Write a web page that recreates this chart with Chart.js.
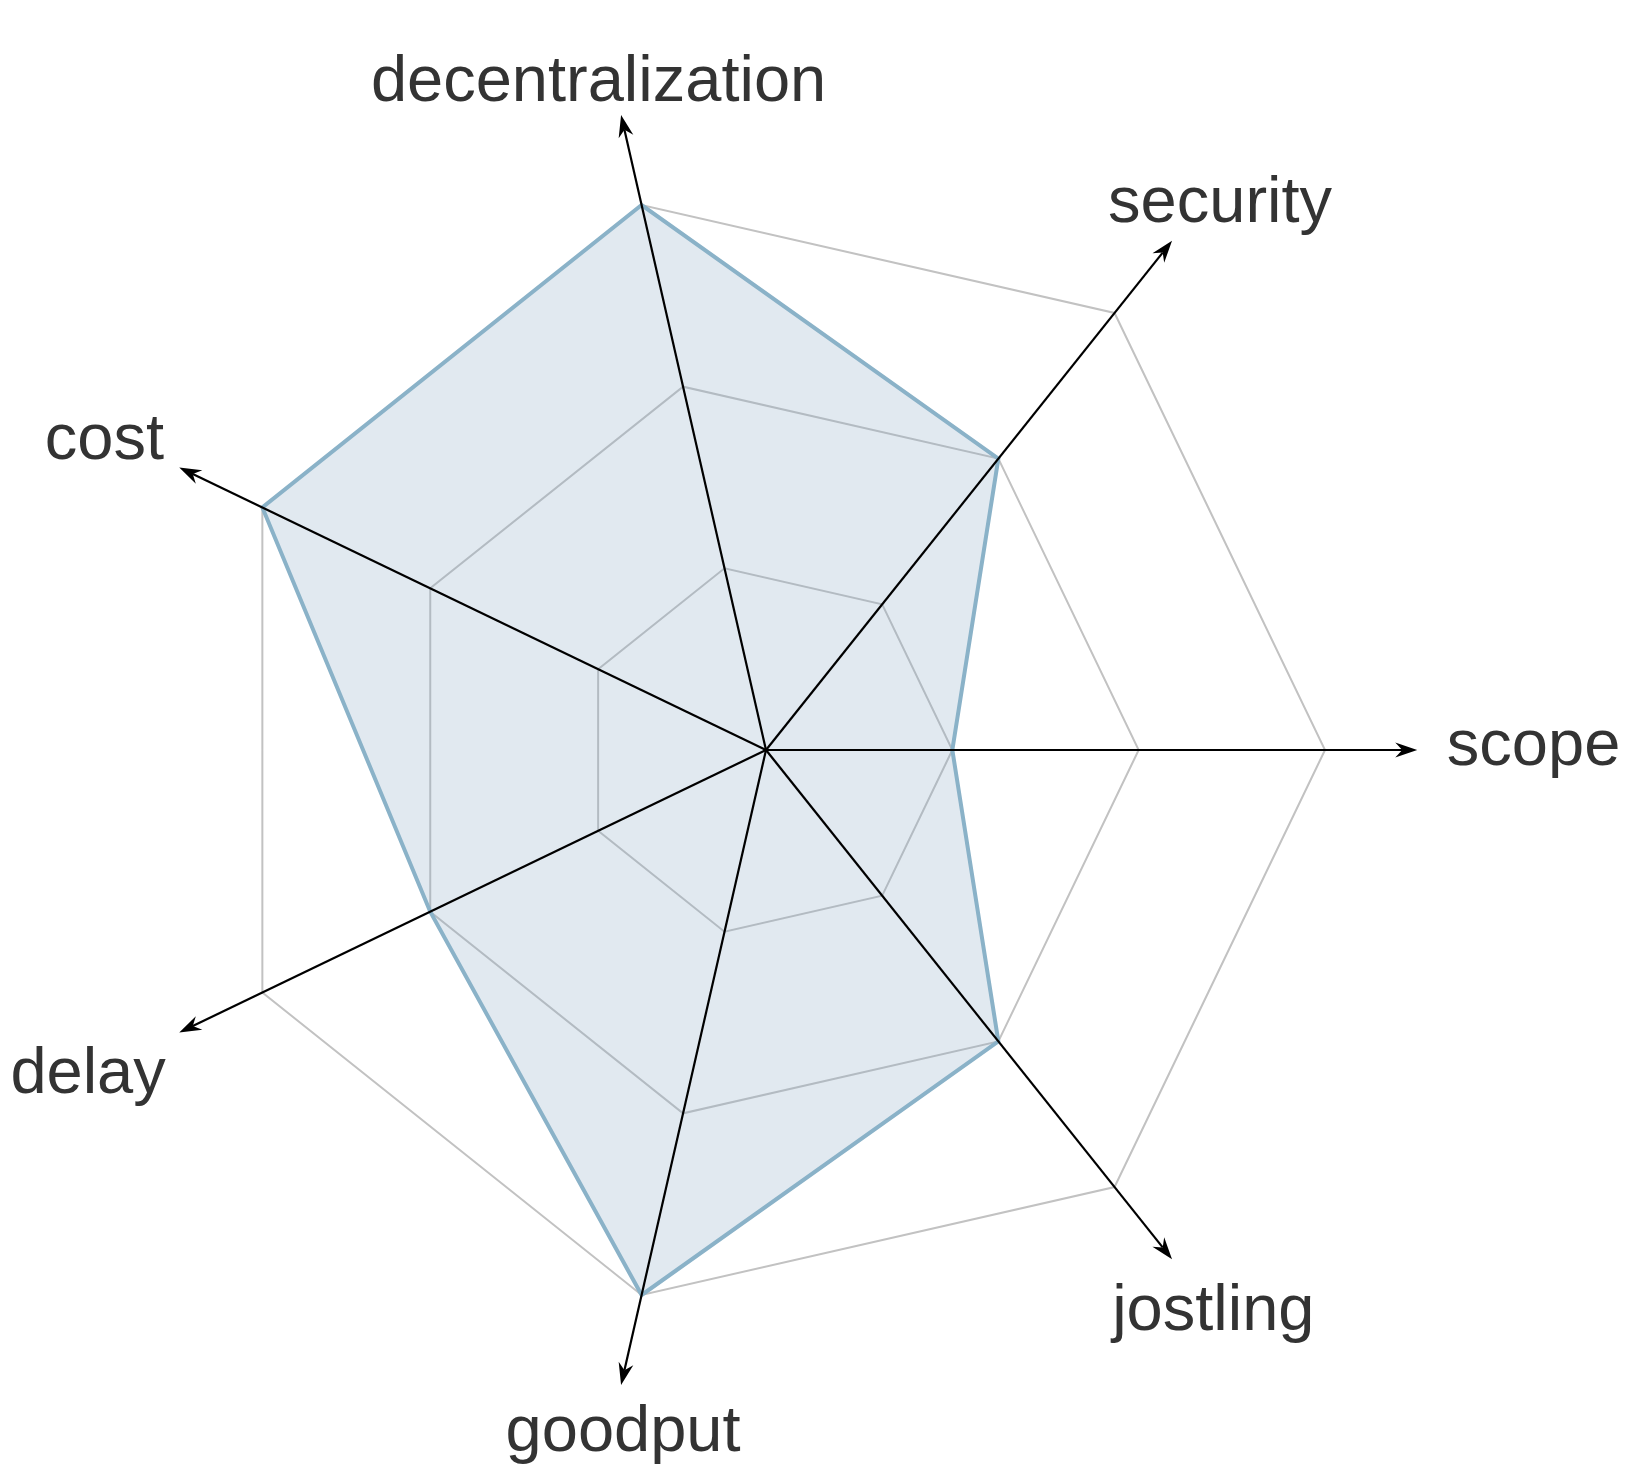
<!DOCTYPE html>
<html>
<head>
<meta charset="utf-8">
<script src="https://cdn.jsdelivr.net/npm/chart.js@4/dist/chart.umd.min.js"></script>
<style>
html, body { margin: 0; padding: 0; background: #ffffff; }
#wrap { width: 1640px; height: 1472px; position: relative; }
</style>
</head>
<body>
<div id="wrap"><canvas id="radarChart"></canvas></div>
<script>
// axes, listed clockwise starting from the right-hand axis
const axisLabels = ['scope', 'jostling', 'goodput', 'delay', 'cost', 'decentralization', 'security'];
const scores = [1, 2, 3, 2, 3, 3, 2];
const scaleMax = 3;
const ringStep = 1;

// draws black axes with arrowheads and the axis names
const axisArrows = {
  id: 'axisArrows',
  afterDatasetsDraw(chart) {
    const scale = chart.scales.r;
    const ctx = chart.ctx;
    const cx = scale.xCenter;
    const cy = scale.yCenter;
    ctx.save();
    ctx.strokeStyle = '#000000';
    ctx.fillStyle = '#000000';
    ctx.lineWidth = 2.2;
    axisLabels.forEach((name, i) => {
      const tip = scale.getPointPositionForValue(i, scaleMax * 1.165);
      const a = Math.atan2(tip.y - cy, tip.x - cx);
      const len = 22, half = 7.5, notch = 15;
      ctx.beginPath();
      ctx.moveTo(cx, cy);
      ctx.lineTo(tip.x - Math.cos(a) * notch, tip.y - Math.sin(a) * notch);
      ctx.stroke();
      ctx.beginPath();
      ctx.moveTo(tip.x, tip.y);
      ctx.lineTo(tip.x - Math.cos(a) * len - Math.sin(a) * half, tip.y - Math.sin(a) * len + Math.cos(a) * half);
      ctx.lineTo(tip.x - Math.cos(a) * notch, tip.y - Math.sin(a) * notch);
      ctx.lineTo(tip.x - Math.cos(a) * len + Math.sin(a) * half, tip.y - Math.sin(a) * len - Math.cos(a) * half);
      ctx.closePath();
      ctx.fill();
    });
    const fontSize = 65;
    ctx.font = fontSize + 'px "Liberation Sans", Arial, Helvetica, sans-serif';
    ctx.fillStyle = '#333333';
    ctx.textAlign = 'center';
    ctx.textBaseline = 'alphabetic';
    axisLabels.forEach((name, i) => {
      const a = scale.getIndexAngle(i) - Math.PI / 2;
      const c = Math.cos(a), s = Math.sin(a);
      const w = ctx.measureText(name).width;
      const kx = 1.218 - 0.309 * Math.pow(s, 4);
      const ky = 1.234 + 0.089 * c * c;
      const px = scale.getPointPositionForValue(i, scaleMax * kx).x;
      const py = scale.getPointPositionForValue(i, scaleMax * ky).y;
      ctx.fillText(name, px + c * w / 2, py + fontSize * (0.23 + 0.17 * Math.min(1, 2.5 * Math.abs(s))));
    });
    ctx.restore();
  }
};

new Chart(document.getElementById('radarChart'), {
  type: 'radar',
  data: {
    labels: axisLabels,
    datasets: [{
      data: scores,
      backgroundColor: 'rgba(135, 167, 195, 0.25)',
      borderColor: '#8ab2c8',
      borderWidth: 4,
      borderJoinStyle: 'miter',
      pointRadius: 0,
      pointHoverRadius: 0
    }]
  },
  options: {
    responsive: true,
    maintainAspectRatio: false,
    animation: false,
    layout: {
      padding: { left: 207, right: 315, top: 191, bottom: 163 }
    },
    plugins: {
      legend: { display: false },
      tooltip: { enabled: false }
    },
    scales: {
      r: {
        min: 0,
        max: scaleMax,
        startAngle: 90,
        ticks: { display: false, stepSize: ringStep },
        grid: { color: '#c2c2c2', lineWidth: 2 },
        angleLines: { display: false },
        pointLabels: { display: false }
      }
    }
  },
  plugins: [axisArrows]
});
</script>
</body>
</html>
